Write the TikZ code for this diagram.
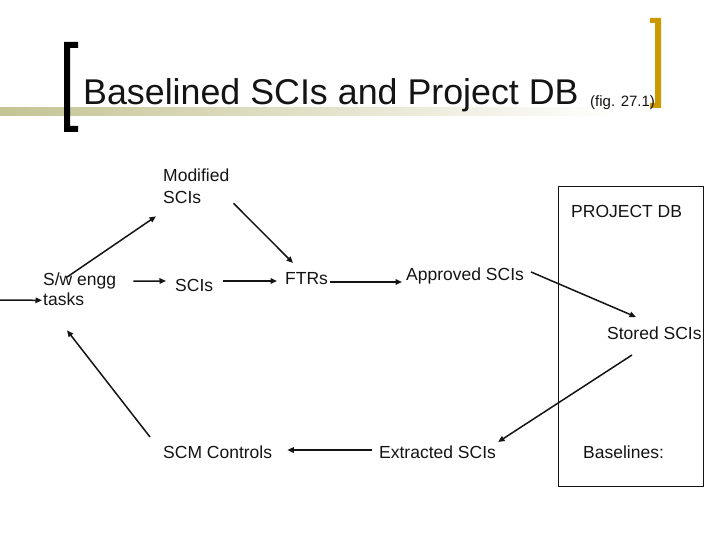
\documentclass[tikz,border=0pt]{standalone}
\usepackage{fontspec}
\setmainfont{Liberation Sans}
\definecolor{ink}{RGB}{20, 20, 20}
\definecolor{khaki}{RGB}{196, 196, 148}
\definecolor{gold}{RGB}{204, 153, 0}
\usetikzlibrary{arrows.meta, positioning}

\begin{document}
\begin{tikzpicture}[
        x=1pt, y=-1pt,
        every node/.style={inner sep=0pt, text=ink},
        lbl/.style={anchor=base west, font=\fontsize{17.5}{21}\selectfont},
        twoline/.style={anchor=west, align=left},
        title/.style={anchor=base west, font=\fontsize{35.8}{42}\selectfont},
        line/.style={-{Triangle[length=6.5pt, width=5.5pt]}, line width=1.5pt, ink}
    ]
        \useasboundingbox (0,0) rectangle (720,540);

        \shade[left color=khaki, right color=white] (0,108) rectangle (620,116);
        \fill[black] (78,42) -- (64,42) -- (64,132) -- (78,132) -- (78,126) -- (70,126) -- (70,48) -- (78,48) -- cycle;
        \fill[gold] (650,18) -- (661,18) -- (661,108) -- (650,108) -- (650,103) -- (655,103) -- (655,23) -- (650,23) -- cycle;

        \node[title] (title) at (83,105) {Baselined SCIs and Project DB};
        \node[anchor=base west, font=\fontsize{15}{18}\selectfont] (fig) at (590,107) {(fig. 27.1)};

        \draw[ink, line width=0.8pt] (558,186) rectangle (703,486);
        \node[lbl] (projdb) at (571,218) {PROJECT DB};

        \coordinate (entry) at (0,300);
        \node[twoline, font=\fontsize{17.5}{20}\selectfont] (sweng) at (43,289.7) {S/w engg\\tasks};
        \node[twoline, font=\fontsize{17.5}{22}\selectfont] (modif) at (163,186.7) {Modified\\SCIs};
        \node[lbl] (scis)      at (175,291) {SCIs};
        \node[lbl] (ftrs)      at (285,284) {FTRs};
        \node[lbl] (approved)  at (406,280) {Approved SCIs};
        \node[lbl] (stored)    at (607,339) {Stored SCIs};
        \node[lbl] (extracted) at (379,458) {Extracted SCIs};
        \node[lbl] (scm)       at (163,458) {SCM Controls};
        \node[lbl] (baselines) at (583,458) {Baselines:};

        \draw[line] (entry) -- ([xshift=-1pt, yshift=6pt]sweng.south west);
        \draw[line] ([xshift=24pt, yshift=-4pt]sweng.north west) -- ([xshift=-7pt, yshift=-12pt]modif.south west);
        \draw[line] ([xshift=17pt, yshift=-8pt]sweng.north east) -- ([xshift=-9pt, yshift=10pt]scis.base west);
        \draw[line] ([xshift=10pt, yshift=10pt]scis.base east) -- ([xshift=-8pt, yshift=3pt]ftrs.base west);
        \draw[line] ([xshift=4pt, yshift=1pt]modif.south east) -- ([xshift=8pt, yshift=21pt]ftrs.base west);
        \draw[line] ([xshift=2pt, yshift=2pt]ftrs.base east) -- ([xshift=-4pt, yshift=-2pt]approved.base west);
        \draw[line] ([xshift=7pt, yshift=8pt]approved.base east) -- ([xshift=29pt, yshift=22pt]stored.base west);
        \draw[line] ([xshift=25pt, yshift=-16pt]stored.base west) -- ([xshift=2pt, yshift=16pt]extracted.base east);
        \draw[line] ([xshift=-7pt, yshift=8pt]extracted.base west) -- ([xshift=15pt, yshift=8pt]scm.base east);
        \draw[line] ([xshift=-13pt, yshift=21pt]scm.base west) -- ([xshift=24pt, yshift=-24pt]sweng.south west);
    \end{tikzpicture}
\end{document}
